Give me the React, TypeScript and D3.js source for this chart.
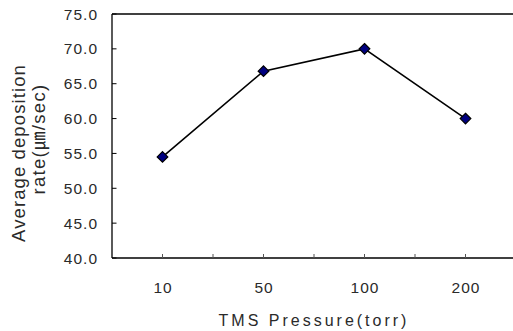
import React from "react";
import * as d3 from "d3";

const categories = ["10", "50", "100", "200"];
const values = [54.5, 66.8, 70.0, 60.0];
const yTicks = [40, 45, 50, 55, 60, 65, 70, 75];

const W = 513;
const H = 331;
const left = 112;
const top = 14;
const bottom = 258;
const right = 516;

export default function App() {
  const x = d3.scaleBand<string>().domain(categories).range([left, right]);
  const y = d3.scaleLinear().domain([40, 75]).range([bottom, top]);
  const line = d3
    .line<number>()
    .x((_, i) => (x(categories[i]) as number) + x.bandwidth() / 2)
    .y((d) => y(d));
  const font = "'Liberation Sans', 'Noto Sans CJK KR', sans-serif";
  const bw = x.bandwidth();
  const xTickPos: number[] = [];
  categories.forEach((c) => {
    xTickPos.push((x(c) as number) + bw / 2);
    if ((x(c) as number) > left) xTickPos.push(x(c) as number);
  });
  const diamond = d3.symbol().type(d3.symbolDiamond2).size(72)();
  const ink = "#2a2a2a";
  return (
    <svg
      width={W}
      height={H}
      style={{ position: "fixed", left: 0, top: 0, background: "#fff" }}
      fontFamily={font}
    >
      <rect x={0} y={0} width={W} height={H} fill="#fff" />
      <line x1={left} y1={top} x2={W} y2={top} stroke="#000" strokeWidth={1.3} />
      <line x1={left} y1={top} x2={left} y2={bottom} stroke="#000" strokeWidth={1.3} />
      <line x1={left} y1={bottom} x2={W} y2={bottom} stroke="#000" strokeWidth={1.3} />
      {yTicks.map((t) => (
        <g key={t}>
          <line x1={left} x2={left + 4.5} y1={y(t)} y2={y(t)} stroke="#000" strokeWidth={1} />
          <text
            x={98}
            y={y(t)}
            dy="0.36em"
            textAnchor="end"
            fontSize={15.5}
            letterSpacing={1}
            fill={ink}
          >
            {t.toFixed(1)}
          </text>
        </g>
      ))}
      {xTickPos.map((p, i) => (
        <line key={i} x1={p} x2={p} y1={bottom} y2={bottom - 4} stroke="#555" strokeWidth={1} />
      ))}
      {categories.map((c) => (
        <text
          key={c}
          x={(x(c) as number) + bw / 2 + 0.5}
          y={293}
          textAnchor="middle"
          fontSize={15.5}
          letterSpacing={1}
          fill={ink}
        >
          {c}
        </text>
      ))}
      <text x={314} y={326} textAnchor="middle" fontSize={16} fill={ink} letterSpacing={3}>
        TMS Pressure(torr)
      </text>
      <text
        transform="translate(25,153) rotate(-90)"
        textAnchor="middle"
        fontSize={18.5}
        letterSpacing={1.1}
        fill={ink}
      >
        Average deposition
      </text>
      <text
        transform="translate(45,139) rotate(-90)"
        textAnchor="middle"
        fontSize={18.5}
        letterSpacing={1.3}
        fill={ink}
      >
        rate(㎛/sec)
      </text>
      <path d={line(values) as string} fill="none" stroke="#000" strokeWidth={1.6} />
      {values.map((v, i) => (
        <path
          key={i}
          d={diamond as string}
          transform={`translate(${(x(categories[i]) as number) + bw / 2},${y(v)})`}
          fill="#000080"
          stroke="#000"
          strokeWidth={1.2}
        />
      ))}
    </svg>
  );
}
